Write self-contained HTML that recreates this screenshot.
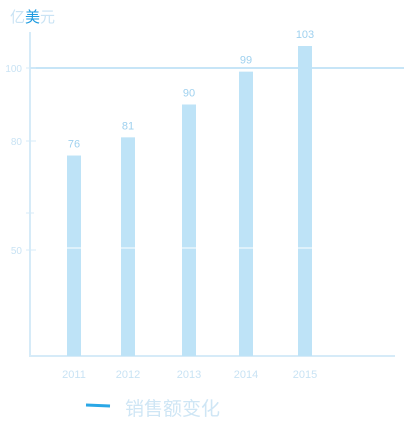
<!DOCTYPE html>
<html><head><meta charset="utf-8"><style>
body{margin:0;background:#fff;width:412px;height:425px;overflow:hidden}
svg{display:block;font-family:"Liberation Sans","Noto Sans CJK SC",sans-serif}
</style></head><body>
<svg id="c" width="412" height="425">
<text x="10" y="22" font-size="15" fill="#c9e3f4">亿<tspan fill="#1e9be0">美</tspan>元</text>
<line x1="30" y1="32" x2="30" y2="357" stroke="#d6ebf8" stroke-width="2"/>
<line x1="29" y1="356" x2="395" y2="356" stroke="#d6ebf8" stroke-width="2"/>
<line x1="26" y1="213" x2="34" y2="213" stroke="#d6ebf8" stroke-width="1"/>
<g id="bars"></g>
<line x1="86" y1="405" x2="110" y2="406" stroke="#2aa7e6" stroke-width="3"/>
<text x="125" y="415" font-size="19" fill="#cfe6f5">销售额变化</text>
</svg>
<script>
const categories=["2011","2012","2013","2014","2015"];
const values=[76,81,90,99,103];
const yTicks=[50,80,100];
const xCenters=[74,128,189,246,305];
// nonlinear axis knots (value -> pixel) as observed in reference
const kv=[0,50,80,100,103,110], kp=[356,250,141,68,46,0];
function y(v){for(let i=1;i<kv.length;i++){if(v<=kv[i]||i==kv.length-1){const t=(v-kv[i-1])/(kv[i]-kv[i-1]);return kp[i-1]+t*(kp[i]-kp[i-1]);}}}
const NS="http://www.w3.org/2000/svg",g=document.getElementById('bars');
function mk(t,a){const e=document.createElementNS(NS,t);for(const k in a)e.setAttribute(k,a[k]);g.appendChild(e);return e;}
yTicks.forEach(v=>{
 if(v===100){const l=mk('line',{x1:30,y1:y(v),x2:404,y2:y(v),stroke:'#c7e5f7','stroke-width':2});
 
 }
 const tk=mk('line',{x1:26,y1:y(v),x2:36,y2:y(v),stroke:'#d6ebf8','stroke-width':1});
 
 
 const t=mk('text',{x:22,y:y(v)+4,'font-size':10,fill:'#c9e3f4','text-anchor':'end'});t.textContent=v;
 
 
});
values.forEach((v,i)=>{
 const cx=xCenters[i],top=y(v);
 const r=mk('rect',{x:cx-7,y:top,width:14,height:356-top,fill:'#bee3f7'});
 
 
 mk('line',{x1:cx-7,y1:248,x2:cx+7,y2:248,stroke:'#fff','stroke-width':1});
 const t=mk('text',{x:cx,y:top-8,'font-size':11,fill:'#9fd1ef','text-anchor':'middle'});t.textContent=v;
 
 
 const c=mk('text',{x:cx,y:378,'font-size':11,fill:'#c9e3f4','text-anchor':'middle'});c.textContent=categories[i];
 
 
});
</script>
</body></html>
